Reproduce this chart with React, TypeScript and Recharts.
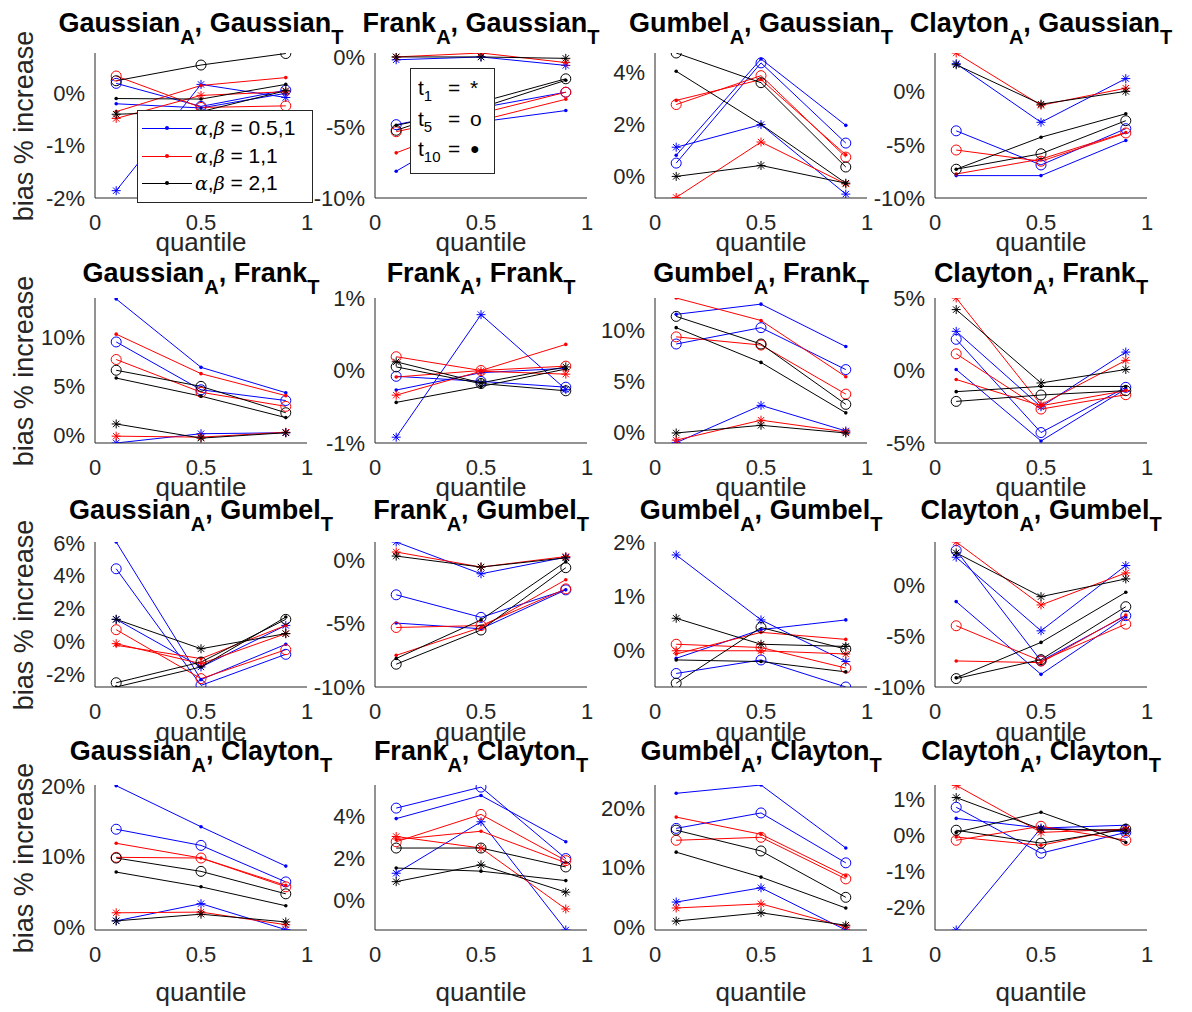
import React from 'react';
import { LineChart, Line, XAxis, YAxis } from 'recharts';

// x positions of the three quantiles
const quantiles = [0.1, 0.5, 0.9];

// column = copula of A, row = copula of T
const copulaA = ['Gaussian', 'Frank', 'Gumbel', 'Clayton'];
const copulaT = ['Gaussian', 'Frank', 'Gumbel', 'Clayton'];

// series order in every panel:
// blue *, blue o, blue ., red *, red o, red ., black *, black o, black .
const gaussianGaussian = [
  [-1.86, 0.17, -0.08], [0.19, -0.25, 0.06], [-0.2, -0.28, 0.0],
  [-0.48, -0.04, 0.03], [0.33, -0.27, -0.24], [-0.35, 0.15, 0.3],
  [-0.4, -0.35, 0.05], [0.24, 0.54, 0.76], [-0.1, -0.11, 0.17],
];
const frankGaussian = [
  [-0.2, 0.0, -0.6], [-4.8, -3.6, -2.5], [-8.1, -4.6, -3.8],
  [0.0, 0.28, -0.4], [-5.3, -4.0, -2.5], [-6.8, -4.5, -3.0],
  [0.0, 0.0, -0.1], [-5.2, -3.2, -1.55], [-4.85, -3.6, -1.65],
];
const gumbelGaussian = [
  [1.12, 1.99, -0.68], [0.51, 4.36, 1.28], [0.81, 4.51, 1.96],
  [-0.81, 1.32, -0.29], [2.76, 3.87, 0.74], [2.92, 3.72, 0.83],
  [0.0, 0.42, -0.26], [4.74, 3.6, 0.36], [4.04, 2.0, -0.26],
];
const claytonGaussian = [
  [2.6, -2.9, 1.2], [-3.7, -6.9, -3.5], [-7.9, -7.9, -4.6],
  [3.6, -1.3, 0.3], [-5.5, -6.55, -3.9], [-7.75, -6.35, -3.85],
  [2.5, -1.2, 0.0], [-7.3, -5.85, -2.75], [-7.3, -4.3, -2.1],
];
const gaussianFrank = [
  [-0.85, 0.1, 0.2], [9.5, 4.6, 3.5], [13.9, 6.9, 4.3],
  [-0.15, -0.25, 0.25], [7.7, 4.35, 2.9], [10.3, 6.25, 4.0],
  [1.1, -0.35, 0.2], [6.6, 4.95, 2.25], [5.8, 3.95, 1.75],
];
const frankFrank = [
  [-0.92, 0.77, -0.26], [-0.08, -0.15, -0.23], [-0.27, -0.03, 0.03],
  [-0.34, -0.01, -0.05], [0.19, 0.0, 0.06], [-0.09, 0.0, 0.36],
  [0.12, -0.17, 0.05], [0.05, -0.18, -0.28], [-0.44, -0.22, 0.02],
];
const gumbelFrank = [
  [-1.05, 2.6, 0.1], [8.6, 10.2, 6.1], [11.5, 12.5, 8.35],
  [-0.8, 1.15, 0.0], [9.3, 8.5, 3.7], [13.1, 10.9, 5.4],
  [-0.1, 0.65, -0.1], [11.3, 8.6, 2.7], [10.2, 6.8, 1.87],
];
const claytonFrank = [
  [2.7, -2.5, 1.27], [2.15, -4.28, -1.16], [0.07, -4.86, -1.27],
  [5.0, -2.36, 0.7], [1.15, -2.66, -1.67], [-0.62, -2.43, -1.39],
  [4.2, -0.86, 0.07], [-2.13, -1.69, -1.39], [-1.46, -1.1, -1.1],
];
const gaussianGumbel = [
  [1.34, -1.56, 0.97], [4.42, -2.68, -0.79], [6.05, -2.33, -0.18],
  [-0.14, -1.36, 0.47], [0.71, -2.27, -0.51], [-0.24, -1.05, 0.97],
  [1.34, -0.45, 0.47], [-2.52, -1.26, 1.34], [-2.78, -1.56, 1.48],
];
const frankGumbel = [
  [1.45, -1.06, 0.25], [-2.72, -4.5, -2.33], [-4.95, -5.4, -2.33],
  [0.66, -0.53, 0.3], [-5.3, -5.15, -2.25], [-7.5, -5.3, -1.53],
  [0.34, -0.53, 0.2], [-8.2, -5.5, -0.58], [-7.75, -4.7, -0.1],
];
const gumbelGumbel = [
  [1.76, 0.56, -0.21], [-0.43, -0.18, -0.68], [-0.15, 0.38, 0.56],
  [-0.01, -0.01, -0.07], [0.11, 0.05, -0.33], [-0.07, 0.33, 0.2],
  [0.59, 0.11, 0.07], [-0.61, 0.42, 0.02], [-0.18, -0.21, -0.4],
];
const claytonGumbel = [
  [2.8, -4.46, 1.98], [3.47, -7.43, -2.97], [-1.58, -8.75, -3.1],
  [4.3, -1.91, 1.25], [-3.96, -7.43, -3.8], [-7.43, -7.6, -2.9],
  [3.23, -1.09, 0.66], [-9.17, -7.3, -2.08], [-9.1, -5.6, -0.66],
];
const gaussianClayton = [
  [0.85, 3.3, -0.4], [13.9, 11.6, 6.4], [20.1, 14.25, 8.65],
  [2.0, 2.1, 0.3], [9.9, 9.8, 5.7], [11.9, 9.8, 5.9],
  [0.85, 1.8, 0.7], [9.8, 7.9, 4.7], [7.8, 5.7, 3.0],
];
const frankClayton = [
  [1.3, 3.75, -1.4], [4.4, 5.4, 2.0], [3.9, 5.0, 2.8],
  [3.05, 2.5, -0.4], [2.8, 4.1, 1.9], [2.9, 3.3, 1.8],
  [0.9, 1.7, 0.4], [2.5, 2.5, 1.6], [1.55, 1.4, 0.95],
];
const gumbelClayton = [
  [4.2, 6.6, -0.5], [16.6, 19.2, 10.8], [22.5, 23.9, 13.3],
  [3.2, 3.9, 0.0], [14.6, 15.1, 8.1], [18.5, 15.6, 8.6],
  [1.0, 2.4, 0.3], [16.3, 12.8, 5.0], [12.6, 8.4, 3.2],
];
const claytonClayton = [
  [-2.64, 0.2, 0.1], [0.78, -0.5, 0.08], [0.47, 0.2, 0.28],
  [1.39, 0.08, 0.17], [-0.14, 0.25, -0.14], [-0.05, -0.28, 0.2],
  [1.05, 0.17, 0.14], [0.14, -0.22, 0.17], [0.08, 0.64, -0.2],
];

const panelData = [
  gaussianGaussian, frankGaussian, gumbelGaussian, claytonGaussian,
  gaussianFrank, frankFrank, gumbelFrank, claytonFrank,
  gaussianGumbel, frankGumbel, gumbelGumbel, claytonGumbel,
  gaussianClayton, frankClayton, gumbelClayton, claytonClayton,
];

const yLimits = [
  [-2, 0.77], [-10, 0.28], [-0.83, 4.74], [-10, 3.6],
  [-0.85, 14.0], [-1, 1], [-1.08, 13.1], [-5, 5],
  [-2.78, 6.05], [-10, 1.45], [-0.68, 2], [-10, 4.3],
  [-0.45, 20.2], [-1.4, 5.5], [-0.5, 23.9], [-2.64, 1.4],
];
const yTicks = [
  [-2, -1, 0], [-10, -5, 0], [0, 2, 4], [-10, -5, 0],
  [0, 5, 10], [-1, 0, 1], [0, 5, 10], [-5, 0, 5],
  [-2, 0, 2, 4, 6], [-10, -5, 0], [0, 1, 2], [-10, -5, 0],
  [0, 10, 20], [0, 2, 4], [0, 10, 20], [-2, -1, 0, 1],
];

const legendLabels = ['0.5,1', '1,1', '2,1'];
const markerLabels = [['1', '*'], ['5', 'o'], ['10', '●']];

const COLORS = ['#0000ff', '#ff0000', '#000000'];
const MARKERS = ['star', 'circle', 'dot'];
const seriesStyle = COLORS.flatMap((color) => MARKERS.map((marker) => ({ color, marker })));

// layout of the 4x4 grid (plot area corners)
const colLeft = [95, 375, 655, 935];
const rowTop = [53, 298, 542, 785];
const PW = 212;
const PH = 145;
const titleY = [23, 273, 510, 751];
const quantY = [242, 487, 732, 992];

const FONT = '"Liberation Sans", Arial, Helvetica, sans-serif';
const AX = '#262626';

const makeDot = (marker: string, color: string) => (props: any) => {
  const { cx, cy, index } = props;
  if (cx == null || cy == null) return <g key={index} />;
  if (marker === 'circle')
    return <circle key={index} cx={cx} cy={cy} r={5} fill="none" stroke={color} strokeWidth={1} />;
  if (marker === 'dot') return <circle key={index} cx={cx} cy={cy} r={1.8} fill={color} />;
  const r = 4.5;
  const d = r * 0.7071;
  return (
    <g key={index} stroke={color} strokeWidth={1}>
      <line x1={cx - r} y1={cy} x2={cx + r} y2={cy} />
      <line x1={cx} y1={cy - r} x2={cx} y2={cy + r} />
      <line x1={cx - d} y1={cy - d} x2={cx + d} y2={cy + d} />
      <line x1={cx - d} y1={cy + d} x2={cx + d} y2={cy - d} />
    </g>
  );
};

function Panel({ idx }: { idx: number }) {
  const r = Math.floor(idx / 4);
  const c = idx % 4;
  const rows = quantiles.map((q, i) => {
    const o: any = { q };
    panelData[idx].forEach((s, j) => (o['s' + j] = s[i]));
    return o;
  });
  const cx = colLeft[c] + PW / 2;
  return (
    <>
      <div style={{ position: 'absolute', left: colLeft[c] - 80, top: rowTop[r] - 20 }}>
        <LineChart width={80 + PW + 12} height={20 + PH + 40} data={rows}
          margin={{ top: 20, right: 12, bottom: 0, left: 10 }}>
          <XAxis dataKey="q" type="number" domain={[0, 1]} ticks={[0, 0.5, 1]} interval={0}
            height={40} tickSize={0} tickMargin={16} tickLine={false}
            axisLine={{ stroke: AX }} tick={{ fill: AX, fontSize: 22 }} />
          <YAxis type="number" domain={yLimits[idx]} ticks={yTicks[idx]} interval={0}
            allowDataOverflow width={70} tickSize={0} tickMargin={10} tickLine={false}
            axisLine={{ stroke: AX }} tick={{ fill: AX, fontSize: 22 }}
            tickFormatter={(v) => `${v}%`} />
          {seriesStyle.map((st, j) => (
            <Line key={j} dataKey={'s' + j} type="linear" stroke={st.color} strokeWidth={1}
              dot={makeDot(st.marker, st.color)} activeDot={false} isAnimationActive={false} />
          ))}
        </LineChart>
      </div>
      <div style={{ position: 'absolute', left: cx - 170, width: 340, top: titleY[r] - 16, height: 32,
        lineHeight: '32px', textAlign: 'center', fontWeight: 'bold', fontSize: 27, whiteSpace: 'nowrap', color: '#000' }}>
        {copulaA[c]}
        <span style={{ fontSize: 20, position: 'relative', top: 12 }}>A</span>, {copulaT[r]}
        <span style={{ fontSize: 20, position: 'relative', top: 12 }}>T</span>
      </div>
      <div style={{ position: 'absolute', left: cx - 80, width: 160, top: quantY[r] - 15, height: 30,
        lineHeight: '30px', textAlign: 'center', fontSize: 26, color: AX }}>
        quantile
      </div>
    </>
  );
}

export default function App() {
  return (
    <div style={{ position: 'absolute', left: 0, top: 0, width: 1192, height: 1012, background: '#fff',
      fontFamily: FONT, overflow: 'hidden' }}>
      {panelData.map((_, i) => <Panel key={i} idx={i} />)}

      {rowTop.map((t, r) => (
        <div key={r} style={{ position: 'absolute', left: 24 - 110, top: t + PH / 2 - 15, width: 220, height: 30,
          lineHeight: '30px', textAlign: 'center', fontSize: 27, color: AX, transform: 'rotate(-90deg)', whiteSpace: 'nowrap' }}>
          bias % increase
        </div>
      ))}

      {/* legend: alpha, beta colours */}
      <div style={{ position: 'absolute', left: 137, top: 110, width: 174, height: 91, background: '#fff',
        border: `1px solid ${AX}` }}>
        {legendLabels.map((lab, i) => (
          <div key={i} style={{ position: 'absolute', left: 0, top: 4 + i * 27.5, height: 26, width: 174 }}>
            <div style={{ position: 'absolute', left: 4, top: 13, width: 50, height: 1, background: COLORS[i] }} />
            <div style={{ position: 'absolute', left: 27, top: 11, width: 4, height: 4, borderRadius: 2, background: COLORS[i] }} />
            <div style={{ position: 'absolute', left: 57, top: 0, lineHeight: '26px', fontSize: 21, color: '#000', whiteSpace: 'nowrap' }}>
              <i style={{ fontFamily: '"DejaVu Serif", serif', fontSize: 19 }}>α</i>,
              <i style={{ fontFamily: '"DejaVu Serif", serif', fontSize: 19 }}>β</i> = {lab}
            </div>
          </div>
        ))}
      </div>

      {/* legend: t markers */}
      <div style={{ position: 'absolute', left: 410, top: 68, width: 83, height: 104, background: '#fff',
        border: `1px solid ${AX}` }}>
        {markerLabels.map(([sub, sym], i) => (
          <div key={i} style={{ position: 'absolute', left: 7, top: 5 + i * 30.5, height: 28, lineHeight: '28px',
            fontSize: 21, color: '#000', whiteSpace: 'nowrap', width: 76 }}>
            t<span style={{ fontSize: 15, position: 'relative', top: 6 }}>{sub}</span>
            <span style={{ position: 'absolute', left: 30 }}>=</span>
            <span style={{ position: 'absolute', left: 52, fontSize: sym === '●' ? 16 : 21 }}>{sym}</span>
          </div>
        ))}
      </div>
    </div>
  );
}
